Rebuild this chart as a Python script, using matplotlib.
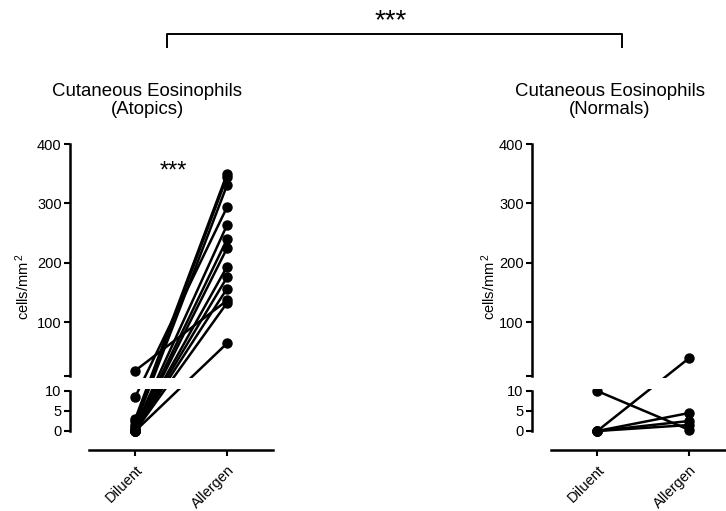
import numpy as np
import matplotlib
matplotlib.use("Agg")
import matplotlib.pyplot as plt
from matplotlib.patches import Rectangle
from matplotlib.lines import Line2D

plt.rcParams['font.family'] = ['Liberation Sans', 'DejaVu Sans']
plt.rcParams['mathtext.fontset'] = 'custom'
plt.rcParams['mathtext.rm'] = 'Liberation Sans'
plt.rcParams['mathtext.it'] = 'Liberation Sans'

# donnees (cellules/mm2), une valeur par sujet
conditions = ['Diluent', 'Allergen']
atopic_diluent = [19, 8.5, 3, 2.5, 1.5, 1, 0.5, 0, 0, 0, 0, 0, 0]
atopic_allergen = [137, 294, 350, 345, 331, 264, 240, 225, 194, 176, 157, 133, 65]
normal_diluent = [10, 0, 0, 0, 0]
normal_allergen = [0.3, 40, 4.5, 2.5, 1.5]
titles = ['Cutaneous Eosinophils', 'Cutaneous Eosinophils']
subtitles = ['(Atopics)', '(Normals)']
lo_ticks = [0, 5, 10]
hi_ticks = [10, 100, 200, 300, 400]
hi_labels = ['', '100', '200', '300', '400']

# mise en page en pixels (726 x 511)
W, H = 726, 511
Y_BOT, Y_LO_TOP, Y_HI_BOT, Y_HI_TOP = 450, 391, 376, 144
LO = (-4.75, 10.0)
HI = (10.0, 400.0)
XLIM = (-0.71, 1.5)
h_lo = Y_BOT - Y_LO_TOP
h_hi = Y_HI_BOT - Y_HI_TOP
gap = Y_LO_TOP - Y_HI_BOT
total = Y_BOT - Y_HI_TOP


def fwd(y):
    y = np.asarray(y, dtype=float)
    lo = (y - LO[0]) / (LO[1] - LO[0]) * h_lo
    hi = h_lo + gap + (y - HI[0]) / (HI[1] - HI[0]) * h_hi
    return np.where(y <= LO[1], lo, hi)


def inv(p):
    p = np.asarray(p, dtype=float)
    lo = LO[0] + p / h_lo * (LO[1] - LO[0])
    hi = HI[0] + (p - h_lo - gap) / h_hi * (HI[1] - HI[0])
    return np.where(p <= h_lo, lo, np.where(p >= h_lo + gap, hi, LO[1]))


def fx(px):
    return px / W


def fy(py):
    return 1 - py / H


fig = plt.figure(figsize=(7.26, 5.11), dpi=100)

LW = 1.8
TICK_FS = 10.5


def panel(x_spine, diluent, allergen, title, subtitle, title_x, ylabel_x, stars):
    wpx = 203
    # axe bas (0-10)
    ax_lo = fig.add_axes([fx(x_spine), fy(Y_BOT), fx(wpx), h_lo / H])
    ax_lo.set_xlim(XLIM)
    ax_lo.set_ylim(LO)
    ax_lo.patch.set_visible(False)
    for s in ['top', 'right']:
        ax_lo.spines[s].set_visible(False)
    ax_lo.spines['left'].set_bounds(0, 10)
    ax_lo.spines['bottom'].set_bounds(-0.5, 1.5)
    ax_lo.spines['left'].set_linewidth(LW)
    ax_lo.spines['bottom'].set_linewidth(LW)
    ax_lo.set_yticks(lo_ticks)
    ax_lo.set_xticks([0, 1])
    ax_lo.set_xticklabels(conditions, rotation=45, ha='right', va='top',
                          rotation_mode='anchor')
    ax_lo.tick_params(axis='both', width=1.5, length=4, labelsize=TICK_FS, pad=2)
    ax_lo.tick_params(axis='x', pad=5, labelsize=10.5)

    # axe haut (10-400)
    ax_hi = fig.add_axes([fx(x_spine), fy(Y_HI_BOT), fx(wpx), h_hi / H])
    ax_hi.set_xlim(XLIM)
    ax_hi.set_ylim(HI)
    ax_hi.patch.set_visible(False)
    for s in ['top', 'right', 'bottom']:
        ax_hi.spines[s].set_visible(False)
    ax_hi.spines['left'].set_linewidth(LW)
    ax_hi.set_xticks([])
    ax_hi.set_yticks(hi_ticks)
    ax_hi.set_yticklabels(hi_labels)
    ax_hi.tick_params(axis='y', width=1.5, length=4, labelsize=TICK_FS, pad=2)

    # axe des donnees avec l'echelle coupee
    ax = fig.add_axes([fx(x_spine), fy(Y_BOT), fx(wpx), total / H])
    ax.set_yscale('function', functions=(fwd, inv))
    ax.set_xlim(XLIM)
    ax.set_ylim(LO[0], HI[1])
    ax.axis('off')
    for d, a in zip(diluent, allergen):
        ax.plot([0, 1], [d, a], color='black', lw=LW, marker='o', ms=6.5,
                clip_on=False, solid_capstyle='butt')
    # bande blanche de la coupure
    b0 = (Y_BOT - Y_LO_TOP + 2) / total
    b1 = (Y_BOT - Y_HI_BOT - 2) / total
    ax.add_patch(Rectangle((0.03, b0), 1.0, b1 - b0, transform=ax.transAxes,
                           facecolor='white', edgecolor='none', zorder=10,
                           clip_on=False))
    if stars:
        ax.text(0.42, (Y_BOT - 178) / total, '***', ha='center', va='baseline',
                fontsize=17, transform=ax.get_xaxis_transform())

    fig.text(fx(title_x), fy(91), title, ha='center', va='center', fontsize=13.4)
    fig.text(fx(title_x), fy(110), subtitle, ha='center', va='center', fontsize=13.4)
    fig.text(fx(ylabel_x), fy(287), r'cells/mm$^{\,2}$', rotation=90,
             ha='center', va='center', fontsize=10.5)


panel(70, atopic_diluent, atopic_allergen, titles[0], subtitles[0], 147, 23, True)
panel(532, normal_diluent, normal_allergen, titles[1], subtitles[1], 610, 489, False)

# crochet de comparaison entre groupes
fig.add_artist(Line2D([fx(167), fx(167), fx(622), fx(622)],
                      [fy(47), fy(34), fy(34), fy(47)],
                      color='black', lw=1.4, transform=fig.transFigure))
fig.text(fx(391), fy(28), '***', ha='center', va='baseline', fontsize=20)

fig.savefig('out.png', dpi=100)
